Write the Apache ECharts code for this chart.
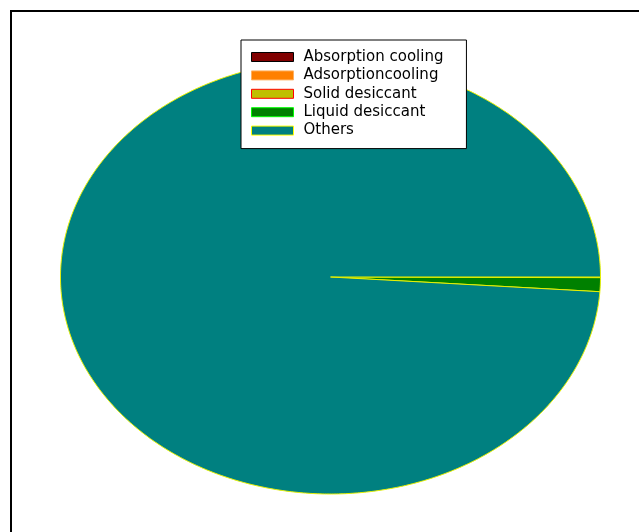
<!DOCTYPE html>
<html><head><meta charset="utf-8">
<script src="https://cdn.jsdelivr.net/npm/echarts@6/dist/echarts.min.js"></script>
<style>html,body{margin:0;padding:0;background:#fff}#c{width:639px;height:532px}</style>
</head><body><div id="c"></div>
<script>
const categories = ['Absorption cooling','Adsorptioncooling','Solid desiccant','Liquid desiccant','Others'];
const values = [0.02, 0.01, 0.02, 1.03, 98.92];
const colors = ['#800000','#ff8000','#bfbf00','#008000','#008080'];
const legendBorders = ['#000000','#ffb060','#ff0000','#00ff00','#ffff00'];

const total = values.reduce((a,b)=>a+b,0);
let cum = 0;
const spans = values.map(v => { const s = cum/total; cum += v; return [s, cum/total]; });

function renderSlice(params, api){
  const a0 = api.value(0)*2*Math.PI, a1 = api.value(1)*2*Math.PI;
  const pts = [api.coord([0,0])];
  const n = Math.max(2, Math.ceil((a1-a0)/(Math.PI/360)));
  for(let i=0;i<=n;i++){
    const t = a0 + (a1-a0)*i/n;
    pts.push(api.coord([Math.cos(-t), Math.sin(-t)]));
  }
  return {type:'polygon', shape:{points:pts}, style:{fill:api.visual('color'), stroke:'#e8f000', lineWidth:1}};
}

const chart = echarts.init(document.getElementById('c'));
chart.setOption({
  animation:false,
  grid:{left:60.5, right:38.5, top:60, bottom:38},
  xAxis:{type:'value', min:-1, max:1, show:false},
  yAxis:{type:'value', min:-1, max:1, show:false},
  graphic:[{type:'rect', shape:{x:11, y:11, width:660, height:560}, style:{fill:null, stroke:'#000', lineWidth:2}, z:100}],
  legend:{
    orient:'vertical', left:241, top:40,
    backgroundColor:'#fff', borderColor:'#000', borderWidth:1, borderRadius:0,
    padding:[9,23,10,10],
    itemWidth:42, itemHeight:9, itemGap:2.4, icon:'rect',
    textStyle:{fontFamily:'DejaVu Sans, sans-serif', fontSize:15, color:'#000', lineHeight:16, padding:[0,0,0,5]},
    data: categories.map((c,i)=>({name:c, itemStyle:{color:colors[i], borderColor:legendBorders[i], borderWidth:1}}))
  },
  series: categories.map((c,i)=>({
    name:c, type:'custom', renderItem:renderSlice,
    itemStyle:{color:colors[i]},
    data:[spans[i]], z:2
  }))
});
</script></body></html>
